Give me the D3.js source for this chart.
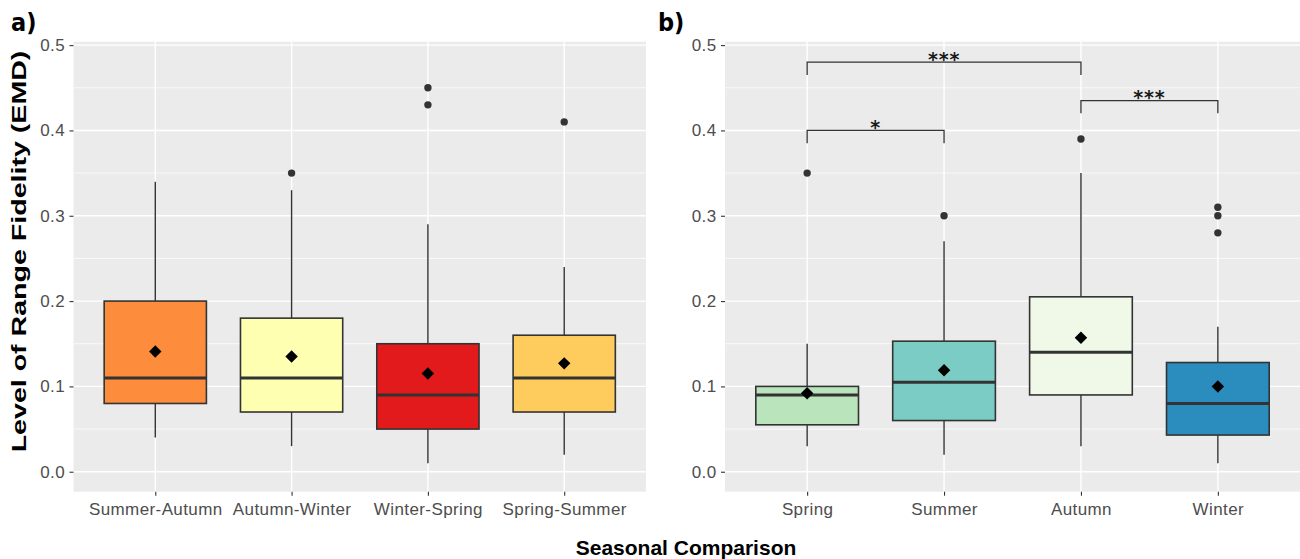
<!DOCTYPE html>
<html>
<head>
<meta charset="utf-8">
<script src="https://cdnjs.cloudflare.com/ajax/libs/d3/7.8.5/d3.min.js"></script>
<style>
	body { margin: 0; background: #ffffff; }
	svg text { font-family: "Liberation Sans", Arial, sans-serif; }
</style>
</head>
<body>
<svg id="chart" width="1300" height="559"></svg>
<script>
// a) season-to-season transitions
var transitionNames = ["Summer-Autumn", "Autumn-Winter", "Winter-Spring", "Spring-Summer"];
var transitionLower = [0.04, 0.03, 0.01, 0.02];
var transitionQ1 = [0.08, 0.07, 0.05, 0.07];
var transitionMedian = [0.11, 0.11, 0.09, 0.11];
var transitionQ3 = [0.20, 0.18, 0.15, 0.16];
var transitionUpper = [0.34, 0.33, 0.29, 0.24];
var transitionMean = [0.141, 0.135, 0.115, 0.127];
var transitionOutliers = [[], [0.35], [0.45, 0.43], [0.41]];

// b) single seasons
var seasonNames = ["Spring", "Summer", "Autumn", "Winter"];
var seasonLower = [0.03, 0.02, 0.03, 0.01];
var seasonQ1 = [0.055, 0.06, 0.09, 0.043];
var seasonMedian = [0.09, 0.105, 0.14, 0.08];
var seasonQ3 = [0.10, 0.153, 0.205, 0.128];
var seasonUpper = [0.15, 0.27, 0.35, 0.17];
var seasonMean = [0.092, 0.119, 0.157, 0.10];
var seasonOutliers = [[0.35], [0.30], [0.39], [0.31, 0.30, 0.28]];

// significance brackets in b)
var bracketFrom = ["Spring", "Spring", "Autumn"];
var bracketTo = ["Summer", "Autumn", "Winter"];
var bracketValue = [0.40, 0.48, 0.435];
var bracketLabel = ["*", "***", "***"];

var yTicks = [0, 0.1, 0.2, 0.3, 0.4, 0.5];

var transitionFills = ["#FD8D3C", "#FFFFB2", "#E31A1C", "#FECC5C"];
var seasonFills = ["#BAE4BC", "#7BCCC4", "#F0F9E8", "#2B8CBE"];

var ChartView = {
	svg: null,
	top: 41.7,
	bottom: 491.7,
	yDomain: [-0.0234, 0.504],

	init: function() {
		var self = this;
		self.svg = d3.select("#chart");

		self.drawPanel({
			tag: "a)", tagX: 11, left: 73.5, right: 646,
			names: transitionNames, lower: transitionLower, q1: transitionQ1, median: transitionMedian,
			q3: transitionQ3, upper: transitionUpper, mean: transitionMean, outliers: transitionOutliers,
			fills: transitionFills
		});
		var seasonPanel = self.drawPanel({
			tag: "b)", tagX: 658, left: 725, right: 1300,
			names: seasonNames, lower: seasonLower, q1: seasonQ1, median: seasonMedian,
			q3: seasonQ3, upper: seasonUpper, mean: seasonMean, outliers: seasonOutliers,
			fills: seasonFills
		});
		self.drawBrackets(seasonPanel);
		self.drawTitles();
	},
	drawPanel: function(p) {
		var self = this;
		var svg = self.svg;

		var x = d3.scalePoint().domain(p.names).range([p.left, p.right]).padding(0.6);
		var y = d3.scaleLinear().domain(self.yDomain).range([self.bottom, self.top]);
		var boxWidth = x.step() * 0.75;

		var panel = svg.append("g").attr("class", "panel");
		panel.append("rect")
			.attr("x", p.left)
			.attr("y", self.top)
			.attr("width", p.right - p.left)
			.attr("height", self.bottom - self.top)
			.attr("fill", "#EBEBEB");

		// minor grid between major ticks
		var minor = d3.pairs(yTicks).map(function(d) { return (d[0] + d[1]) / 2; });
		panel.selectAll(".minor").data(minor).enter().append("line")
			.attr("class", "minor")
			.attr("x1", p.left).attr("x2", p.right)
			.attr("y1", y).attr("y2", y)
			.attr("stroke", "#ffffff")
			.attr("stroke-width", 0.7);
		panel.selectAll(".major").data(yTicks).enter().append("line")
			.attr("class", "major")
			.attr("x1", p.left).attr("x2", p.right)
			.attr("y1", y).attr("y2", y)
			.attr("stroke", "#ffffff")
			.attr("stroke-width", 1.4);
		panel.selectAll(".vgrid").data(p.names).enter().append("line")
			.attr("class", "vgrid")
			.attr("x1", x).attr("x2", x)
			.attr("y1", self.top).attr("y2", self.bottom)
			.attr("stroke", "#ffffff")
			.attr("stroke-width", 1.4);

		var boxes = panel.selectAll(".box").data(p.names).enter().append("g")
			.attr("class", "box");

		boxes.append("line")
			.attr("x1", x).attr("x2", x)
			.attr("y1", function(d, i) { return y(p.upper[i]); })
			.attr("y2", function(d, i) { return y(p.q3[i]); })
			.attr("stroke", "#333333").attr("stroke-width", 1.4);
		boxes.append("line")
			.attr("x1", x).attr("x2", x)
			.attr("y1", function(d, i) { return y(p.q1[i]); })
			.attr("y2", function(d, i) { return y(p.lower[i]); })
			.attr("stroke", "#333333").attr("stroke-width", 1.4);
		boxes.append("rect")
			.attr("x", function(d) { return x(d) - boxWidth / 2; })
			.attr("y", function(d, i) { return y(p.q3[i]); })
			.attr("width", boxWidth)
			.attr("height", function(d, i) { return y(p.q1[i]) - y(p.q3[i]); })
			.attr("fill", function(d, i) { return p.fills[i]; })
			.attr("stroke", "#333333")
			.attr("stroke-width", 1.6);
		boxes.append("line")
			.attr("x1", function(d) { return x(d) - boxWidth / 2; })
			.attr("x2", function(d) { return x(d) + boxWidth / 2; })
			.attr("y1", function(d, i) { return y(p.median[i]); })
			.attr("y2", function(d, i) { return y(p.median[i]); })
			.attr("stroke", "#333333").attr("stroke-width", 3);

		boxes.each(function(d, i) {
			d3.select(this).selectAll(".outlier").data(p.outliers[i]).enter().append("circle")
				.attr("class", "outlier")
				.attr("cx", x(d))
				.attr("cy", y)
				.attr("r", 3.7)
				.attr("fill", "#333333");
		});

		boxes.append("path")
			.attr("d", d3.symbol().type(d3.symbolSquare).size(78))
			.attr("transform", function(d, i) { return "translate(" + x(d) + "," + y(p.mean[i]) + ") rotate(45)"; })
			.attr("fill", "#000000");

		// axes
		var yAxis = panel.append("g")
			.attr("transform", "translate(" + p.left + ",0)")
			.call(d3.axisLeft(y).tickValues(yTicks).tickFormat(d3.format(".1f")).tickSize(4).tickPadding(4.5));
		var xAxis = panel.append("g")
			.attr("transform", "translate(0," + self.bottom + ")")
			.call(d3.axisBottom(x).tickSize(4).tickPadding(7.4));
		[yAxis, xAxis].forEach(function(axis) {
			axis.select(".domain").remove();
			axis.selectAll(".tick line").attr("stroke", "#333333").attr("stroke-width", 1.1);
			axis.selectAll(".tick text")
				.attr("fill", "#4D4D4D")
				.style("font-size", "17px")
				.style("letter-spacing", "0.4px");
		});

		svg.append("text")
			.attr("x", p.tagX)
			.attr("y", 31)
			.style("font-family", "'DejaVu Sans Condensed', 'DejaVu Sans', sans-serif")
			.style("font-stretch", "condensed")
			.style("font-weight", "bold")
			.style("font-size", "25px")
			.attr("fill", "#000000")
			.text(p.tag);

		return { x: x, y: y };
	},
	drawBrackets: function(scales) {
		var self = this;
		var x = scales.x, y = scales.y;
		var tip = 0.015;

		var g = self.svg.append("g").attr("class", "brackets");
		bracketLabel.forEach(function(label, i) {
			var x1 = x(bracketFrom[i]), x2 = x(bracketTo[i]);
			var yLine = y(bracketValue[i]), yTip = y(bracketValue[i] - tip);
			g.append("path")
				.attr("d", "M" + x1 + "," + yTip + "V" + yLine + "H" + x2 + "V" + yTip)
				.attr("fill", "none")
				.attr("stroke", "#333333")
				.attr("stroke-width", 1.3);
			g.append("text")
				.attr("x", (x1 + x2) / 2)
				.attr("y", yLine + 3.5)
				.style("text-anchor", "middle")
				.style("font-family", "'DejaVu Sans', sans-serif")
				.style("font-weight", "bold")
				.style("font-size", "19px")
				.style("letter-spacing", "0.8px")
				.attr("fill", "#1A1A1A")
				.text(label);
		});
	},
	drawTitles: function() {
		var self = this;

		self.svg.append("text")
			.attr("x", 686)
			.attr("y", 555)
			.style("text-anchor", "middle")
			.style("font-weight", "bold")
			.style("font-size", "21px")
			.attr("fill", "#000000")
			.text("Seasonal Comparison");

		// the original y title is drawn stretched along its length
		self.svg.append("text")
			.attr("transform", "translate(26,251.5) rotate(-90) scale(1.43,1)")
			.style("text-anchor", "middle")
			.style("font-weight", "bold")
			.style("font-size", "20px")
			.attr("fill", "#000000")
			.text("Level of Range Fidelity (EMD)");
	}
};

ChartView.init();
</script>
</body>
</html>
